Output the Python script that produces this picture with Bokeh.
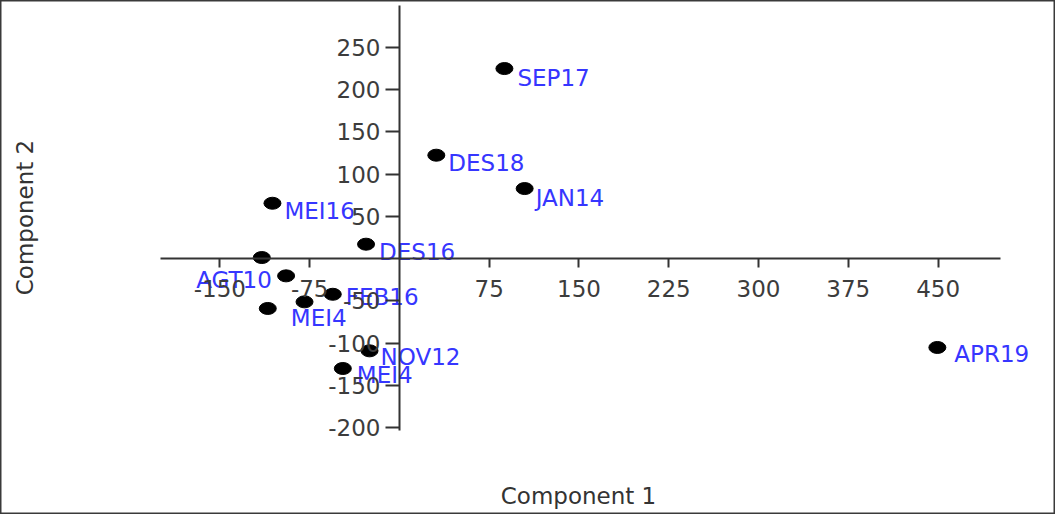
import math
from bokeh.plotting import figure
from bokeh.models import ColumnDataSource, LinearAxis, FixedTicker, Label, Range1d
from bokeh.core.properties import value
from bokeh.embed import file_html
from bokeh.resources import INLINE

# ---- data ----
labels = ["SEP17", "DES18", "JAN14", "MEI16", "DES16", "AGT10", "", "FEB16", "", "MEI4", "NOV12", "MEI4", "APR19"]
comp1 = [87.7, 30.8, 104.6, -106.1, -27.9, -115.0, -94.7, -55.7, -79.3, -110.0, -25.0, -47.3, 449.4]
comp2 = [225.1, 122.5, 83.0, 65.6, 17.1, 1.3, -20.4, -42.2, -51.2, -59.0, -109.2, -130.1, -105.2]
x_ticks = [-150, -75, 75, 150, 225, 300, 375, 450]
y_ticks = [-200, -150, -100, -50, 50, 100, 150, 200, 250]
x_title = "Component 1"
y_title = "Component 2"

# ---- label placement (style only) ----
dx = [13, 12, 11, 12, 13, 10, 0, 13, 0, 23, 11, 14, 17]
dy = [9.5, 8, 9, 8, 8, 22, 0, 3, 0, 10, 6, 7, 7]
align = ["left"] * 5 + ["right"] + ["left"] * 7

src = ColumnDataSource(dict(x=comp1, y=comp2, label=labels, dx=dx, dy=dy, align=align))

W, H = 1055, 514
FONT = "DejaVu Sans"

p = figure(width=W, height=H, title=None,
           x_range=Range1d(-333.3, 548.1), y_range=Range1d(-303.0, 305.7),
           output_backend="svg", toolbar_location=None,
           x_axis_location=None, y_axis_location=None, min_border=0)
p.grid.visible = False
p.outline_line_color = "#3a3a3a"
p.outline_line_width = 2
p.background_fill_color = "white"
p.border_fill_color = "white"

xaxis = LinearAxis(fixed_location=0, bounds=(-200, 502), ticker=FixedTicker(ticks=x_ticks))
yaxis = LinearAxis(fixed_location=0, bounds=(-203, 300), ticker=FixedTicker(ticks=y_ticks))
xaxis.major_label_overrides = {t: str(t) for t in x_ticks}
yaxis.major_label_overrides = {t: str(t) for t in y_ticks}
for ax in (xaxis, yaxis):
    ax.axis_line_color = "#333333"
    ax.axis_line_width = 2
    ax.major_tick_line_color = "#333333"
    ax.major_tick_line_width = 2
    ax.major_tick_in = 0
    ax.minor_tick_line_color = None
    ax.major_label_text_font = FONT
    ax.major_label_text_font_size = "23px"
    ax.major_label_text_color = "#3c3c3c"
xaxis.major_tick_out = 9
xaxis.major_label_standoff = 12
yaxis.major_tick_out = 14
yaxis.major_label_standoff = 5
p.add_layout(xaxis, "below")
p.add_layout(yaxis, "left")

p.ellipse(x="x", y="y", width=17, height=12, width_units="screen", height_units="screen",
          fill_color="black", line_color="black", source=src)
p.text(x="x", y="y", text="label", x_offset="dx", y_offset="dy", text_align="align",
       text_baseline="middle", text_font=value(FONT), text_font_size="23px",
       text_color="#3636ff", source=src)

p.add_layout(Label(x=578, y=19, x_units="screen", y_units="screen", text=x_title,
                   text_align="center", text_baseline="middle", text_font=FONT,
                   text_font_size="23px", text_color="#333333"))
p.add_layout(Label(x=24, y=297, x_units="screen", y_units="screen", text=y_title,
                   angle=math.pi / 2, text_align="center", text_baseline="middle",
                   text_font=FONT, text_font_size="23px", text_color="#333333"))

open("out.html", "w").write(file_html(p, INLINE))
